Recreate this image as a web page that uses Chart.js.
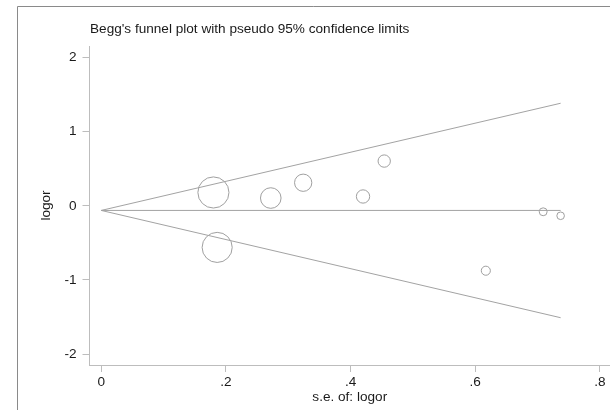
<!DOCTYPE html>
<html>
<head>
<meta charset="utf-8">
<title>Begg's funnel plot</title>
<script src="https://cdn.jsdelivr.net/npm/chart.js@4/dist/chart.umd.min.js"></script>
<style>
  html, body { margin: 0; padding: 0; background: #fff; }
  #wrap { width: 610px; height: 410px; position: relative; }
</style>
</head>
<body>
<div id="wrap"><canvas id="chartCanvas" width="610" height="410"></canvas></div>
<script>
// Study estimates
const studySe    = [0.180, 0.186, 0.272, 0.324, 0.420, 0.454, 0.617, 0.709, 0.737];
const studyLogor = [0.179, -0.561, 0.104, 0.310, 0.125, 0.602, -0.875, -0.081, -0.135];

// Pooled estimate and pseudo 95% limits (end points of the funnel lines)
const limitSe    = [0, 0.737];
const pooledLine = [-0.063, -0.063];
const upperLimit = [-0.063, 1.381];
const lowerLimit = [-0.063, -1.508];

// Axis ticks
const xTicks      = [0, 0.2, 0.4, 0.6, 0.8];
const xTickLabels = ['0', '.2', '.4', '.6', '.8'];
const yTicks      = [-2, -1, 0, 1, 2];
const yTickLabels = ['-2', '-1', '0', '1', '2'];

const titleText = "Begg's funnel plot with pseudo 95% confidence limits";
const FONT = 'Arial, "Liberation Sans", Helvetica, sans-serif';
const FONT_SIZE = 13.6;
const TEXT = '#1a1a1a';
const AXIS_GREY = '#bdbdbd';
const LINE_GREY = '#a3a3a3';

const toPoints = (xs, ys) => xs.map((x, i) => ({ x: x, y: ys[i] }));

// Outer graph frame and title, drawn like Stata's graph region
const framePlugin = {
  id: 'frame',
  beforeDraw(chart) {
    const ctx = chart.ctx;
    ctx.save();
    ctx.fillStyle = '#fff';
    ctx.fillRect(0, 0, chart.width, chart.height);
    ctx.strokeStyle = '#8a8a8a';
    ctx.lineWidth = 1;
    ctx.beginPath();
    ctx.moveTo(17.5, chart.height);
    ctx.lineTo(17.5, 6.5);
    ctx.lineTo(chart.width, 6.5);
    ctx.stroke();
    ctx.fillStyle = TEXT;
    ctx.font = FONT_SIZE + 'px ' + FONT;
    ctx.textBaseline = 'middle';
    ctx.textAlign = 'left';
    ctx.fillText(titleText, 90, 29);
    ctx.restore();
  }
};

function buildChart() {
  try {
    const ctx = document.getElementById('chartCanvas').getContext('2d');
    return new Chart(ctx, {
      type: 'scatter',
      data: {
        datasets: [
          {
            label: 'upper limit',
            data: toPoints(limitSe, upperLimit),
            showLine: true,
            borderColor: LINE_GREY,
            borderWidth: 1,
            pointRadius: 0
          },
          {
            label: 'lower limit',
            data: toPoints(limitSe, lowerLimit),
            showLine: true,
            borderColor: LINE_GREY,
            borderWidth: 1,
            pointRadius: 0
          },
          {
            label: 'pooled',
            data: toPoints(limitSe, pooledLine),
            showLine: true,
            borderColor: LINE_GREY,
            borderWidth: 1,
            pointRadius: 0
          },
          {
            label: 'studies',
            data: toPoints(studySe, studyLogor),
            showLine: false,
            borderColor: '#a0a0a0',
            backgroundColor: 'rgba(0,0,0,0)',
            borderWidth: 1,
            // marker size weighted by precision (1/se)
            pointRadius: c => 2.8 / c.raw.x,
            clip: false
          }
        ]
      },
      options: {
        responsive: false,
        animation: false,
        events: [],
        layout: { autoPadding: false, padding: { top: 46, left: 0, right: 0, bottom: 0 } },
        plugins: {
          legend: { display: false },
          tooltip: { enabled: false },
          title: { display: false }
        },
        scales: {
          x: {
            type: 'linear',
            min: -0.0188,
            max: 0.8162,
            afterFit: s => { s.height = 45; s.paddingLeft = 0; s.paddingRight = 0; },
            afterBuildTicks: s => { s.ticks = xTicks.map(v => ({ value: v })); },
            border: { color: AXIS_GREY, width: 1 },
            grid: { drawOnChartArea: false, drawTicks: true, tickLength: 7, color: AXIS_GREY },
            ticks: {
              color: TEXT,
              font: { family: FONT, size: FONT_SIZE },
              padding: 2,
              maxRotation: 0,
              callback: v => xTickLabels[xTicks.indexOf(v)]
            },
            title: {
              display: true,
              text: 's.e. of: logor',
              color: TEXT,
              font: { family: FONT, size: FONT_SIZE },
              padding: { top: 0, bottom: 5 }
            }
          },
          y: {
            type: 'linear',
            min: -2.145,
            max: 2.152,
            afterFit: s => { s.width = 89.5; s.paddingTop = 0; s.paddingBottom = 0; },
            afterBuildTicks: s => { s.ticks = yTicks.map(v => ({ value: v })); },
            border: { color: AXIS_GREY, width: 1 },
            grid: { drawOnChartArea: false, drawTicks: true, tickLength: 7, color: AXIS_GREY },
            ticks: {
              color: TEXT,
              font: { family: FONT, size: FONT_SIZE },
              padding: 6,
              callback: v => yTickLabels[yTicks.indexOf(v)]
            },
            title: {
              display: true,
              text: 'logor',
              color: TEXT,
              font: { family: FONT, size: FONT_SIZE },
              padding: { top: 38, bottom: 0 }
            }
          }
        }
      },
      plugins: [framePlugin]
    });
  } catch (error) {
    console.error('Error initializing chart:', error);
  }
}

buildChart();
</script>
</body>
</html>
